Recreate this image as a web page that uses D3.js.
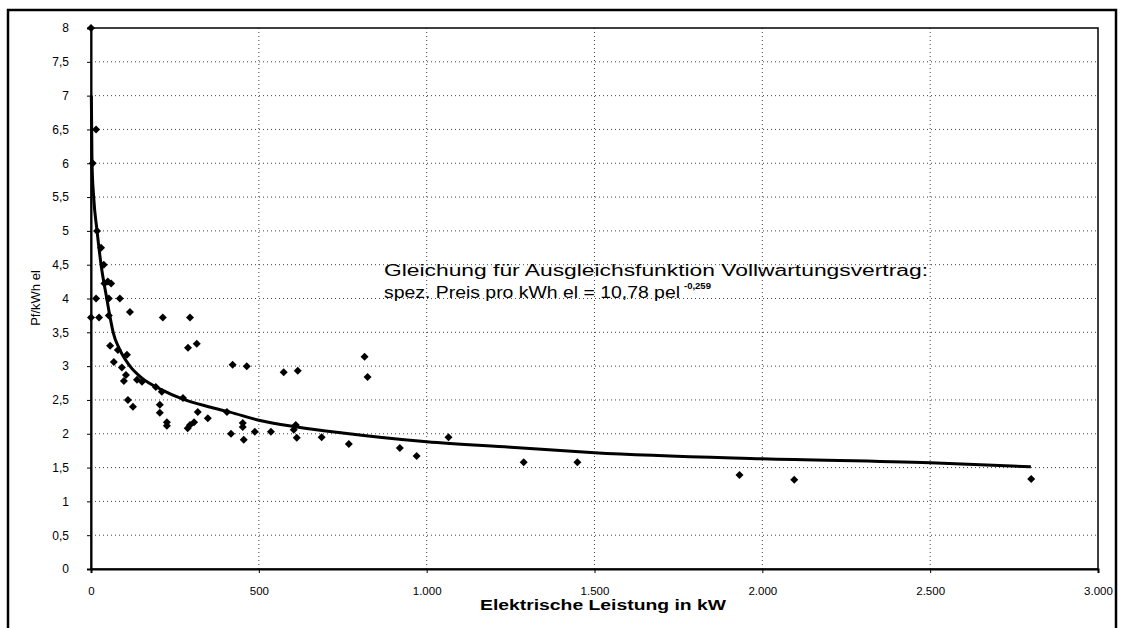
<!DOCTYPE html>
<html>
<head>
<meta charset="utf-8">
<script src="https://cdn.jsdelivr.net/npm/d3@7"></script>
<style>
  html, body { margin: 0; padding: 0; background: #fff; }
  svg { display: block; font-family: "Liberation Sans", Arial, sans-serif; }
</style>
</head>
<body>
<svg id="chart" width="1121" height="628"></svg>
<script>
// ---- data ----
const xTicks = [0, 500, 1000, 1500, 2000, 2500, 3000];
const xTickLabels = ["0", "500", "1.000", "1.500", "2.000", "2.500", "3.000"];
const yTicks = [0, 0.5, 1, 1.5, 2, 2.5, 3, 3.5, 4, 4.5, 5, 5.5, 6, 6.5, 7, 7.5, 8];
const yTickLabels = ["0", "0,5", "1", "1,5", "2", "2,5", "3", "3,5", "4", "4,5", "5", "5,5", "6", "6,5", "7", "7,5", "8"];

// scatter points (Elektrische Leistung kW, Pf/kWh el)
const pointKW = [0, 15, 5, 18, 30, 38, 40, 50, 60, 15, 53, 86, 0, 24, 53, 116, 214, 295,
  289, 315, 57, 80, 107, 68, 92, 104, 98, 137, 152, 193, 211, 110, 125, 205, 205,
  226, 226, 274, 318, 348, 295, 307, 288, 405, 417, 422, 464, 574, 616, 815, 824,
  452, 452, 455, 488, 536, 610, 604, 613, 687, 768, 920, 970, 1065, 1289, 1449,
  1932, 2095, 2801];
const pointPrice = [8.0, 6.5, 6.0, 5.0, 4.75, 4.5, 4.22, 4.25, 4.22, 4.0, 4.0, 4.0, 3.72, 3.72, 3.75, 3.8, 3.72, 3.72,
  3.27, 3.33, 3.3, 3.24, 3.17, 3.06, 2.98, 2.87, 2.78, 2.8, 2.77, 2.69, 2.62, 2.5, 2.4, 2.43, 2.31,
  2.17, 2.12, 2.53, 2.32, 2.23, 2.13, 2.17, 2.08, 2.32, 2.0, 3.02, 3.0, 2.91, 2.93, 3.14, 2.84,
  2.16, 2.1, 1.91, 2.03, 2.03, 2.13, 2.06, 1.94, 1.95, 1.85, 1.79, 1.67, 1.95, 1.58, 1.58,
  1.39, 1.32, 1.33];

// fitted curve
const curveKW = [1, 3, 8, 18, 30, 47, 57, 66, 85, 116, 150, 211, 270, 350, 414, 500, 614, 750, 1000, 1250, 1500, 2000, 2500, 2800];
const curvePrice = [7.0, 6.0, 5.5, 5.0, 4.5, 4.0, 3.72, 3.5, 3.25, 3.0, 2.83, 2.65, 2.52, 2.4, 2.32, 2.2, 2.1, 2.01, 1.88, 1.8, 1.72, 1.63, 1.57, 1.51];

const xTitle = "Elektrische Leistung in kW";
const yTitle = "Pf/kWh el";
const noteLine1 = "Gleichung für Ausgleichsfunktion Vollwartungsvertrag:";
const noteLine2 = "spez. Preis pro kWh el = 10,78 pel";
const noteExp = "-0,259";

// ---- layout ----
const svg = d3.select("#chart");
const L = 91, T = 28, R = 1098, B = 569;

const x = d3.scaleLinear().domain([0, 3000]).range([L, R]);
const y = d3.scaleLinear().domain([0, 8]).range([B, T]);

// outer frame
svg.append("rect").attr("x", 8).attr("y", 10).attr("width", 1108).attr("height", 640)
  .attr("fill", "none").attr("stroke", "#000").attr("stroke-width", 2.5);

// gridlines
const grid = svg.append("g");
grid.selectAll("line.h").data(yTicks.filter(d => d > 0 && d < 8)).join("line")
  .attr("x1", L).attr("x2", R).attr("y1", d => y(d)).attr("y2", d => y(d))
  .attr("stroke", "#444").attr("stroke-width", 1).attr("stroke-dasharray", "1 3");
grid.selectAll("line.v").data(xTicks.filter(d => d > 0 && d < 3000)).join("line")
  .attr("y1", T).attr("y2", B).attr("x1", d => x(d)).attr("x2", d => x(d))
  .attr("stroke", "#444").attr("stroke-width", 1).attr("stroke-dasharray", "1 3");

// plot frame
svg.append("rect").attr("x", L).attr("y", T).attr("width", R - L).attr("height", B - T)
  .attr("fill", "none").attr("stroke", "#000").attr("stroke-width", 1.5);

// axes
const xAxis = d3.axisBottom(x).tickValues(xTicks)
  .tickFormat((d, i) => xTickLabels[i]).tickSize(4).tickPadding(14);
const gx = svg.append("g").attr("transform", `translate(0,${B})`).call(xAxis);
gx.select(".domain").attr("stroke-width", 2);
gx.selectAll("text").attr("font-size", 11.5).attr("fill", "#000")
  .attr("font-family", "Liberation Sans, Arial, sans-serif");

const yAxis = d3.axisLeft(y).tickValues(yTicks)
  .tickFormat((d, i) => yTickLabels[i]).tickSize(4).tickPadding(18);
const gy = svg.append("g").attr("transform", `translate(${L},0)`).call(yAxis);
gy.select(".domain").attr("stroke-width", 2);
gy.selectAll("text").attr("font-size", 12).attr("fill", "#000")
  .attr("font-family", "Liberation Sans, Arial, sans-serif");

// curve
const line = d3.line().x((d, i) => x(curveKW[i])).y((d, i) => y(curvePrice[i]))
  .curve(d3.curveMonotoneX);
svg.append("path").datum(curveKW).attr("d", line)
  .attr("fill", "none").attr("stroke", "#000").attr("stroke-width", 3);

// points (square rotated 45° = even diamond)
const sym = d3.symbol().type(d3.symbolSquare).size(32);
svg.append("g").selectAll("path").data(pointKW).join("path")
  .attr("d", sym)
  .attr("transform", (d, i) => `translate(${x(d)},${y(pointPrice[i])}) rotate(45)`)
  .attr("fill", "#000");

// axis titles
svg.append("text").attr("x", 603).attr("y", 610).attr("text-anchor", "middle")
  .attr("font-size", 14).attr("font-weight", "bold")
  .attr("textLength", 246).attr("lengthAdjust", "spacingAndGlyphs").text(xTitle);
svg.append("text").attr("transform", "translate(40,298) rotate(-90)")
  .attr("text-anchor", "middle").attr("font-size", 13).text(yTitle);

// annotation
svg.append("text").attr("x", 384).attr("y", 276).attr("font-size", 16)
  .attr("textLength", 544).attr("lengthAdjust", "spacingAndGlyphs").text(noteLine1);
svg.append("text").attr("x", 384).attr("y", 298).attr("font-size", 16)
  .attr("textLength", 296).attr("lengthAdjust", "spacingAndGlyphs").text(noteLine2);
svg.append("text").attr("x", 684).attr("y", 289).attr("font-size", 9.5)
  .attr("font-weight", "bold").text(noteExp);
</script>
</body>
</html>
